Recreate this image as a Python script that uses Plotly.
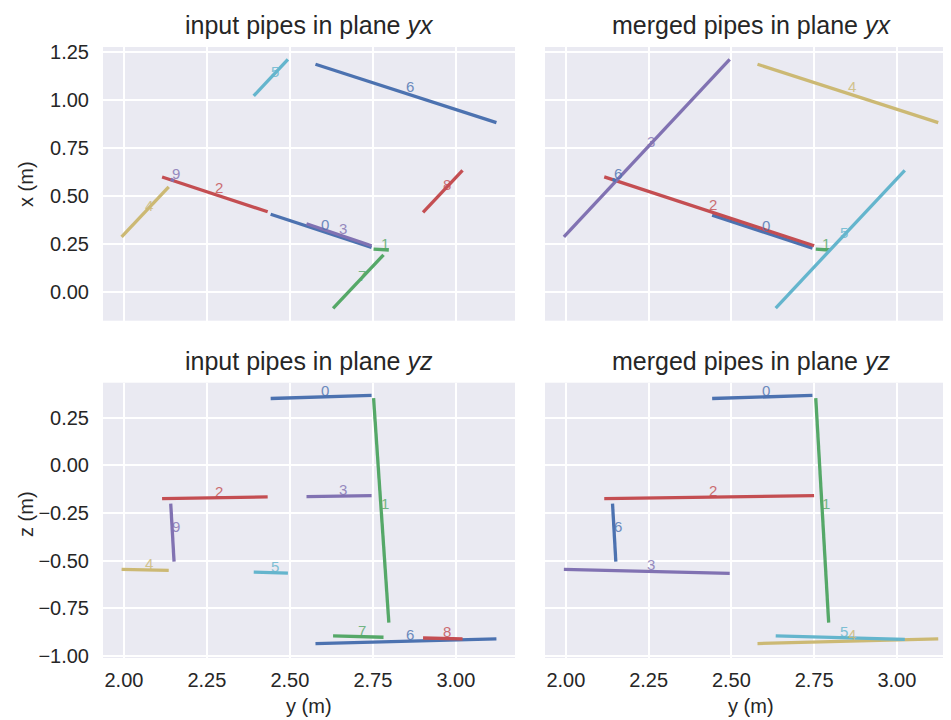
import plotly.graph_objects as go

# ---- data: input pipes (start/end coordinates in metres) ----
in_ids = [0, 1, 2, 3, 4, 5, 6, 7, 8, 9]
in_y0 = [2.442, 2.752, 2.115, 2.550, 1.993, 2.391, 2.577, 2.630, 2.901, 2.141]
in_y1 = [2.746, 2.798, 2.433, 2.746, 2.135, 2.494, 3.122, 2.782, 3.020, 2.151]
in_x0 = [0.405, 0.224, 0.599, 0.356, 0.288, 1.021, 1.186, -0.085, 0.415, 0.587]
in_x1 = [0.233, 0.219, 0.418, 0.241, 0.548, 1.212, 0.882, 0.194, 0.634, 0.580]
in_z0 = [0.351, 0.353, -0.175, -0.164, -0.547, -0.561, -0.936, -0.896, -0.907, -0.201]
in_z1 = [0.367, -0.826, -0.166, -0.159, -0.552, -0.566, -0.912, -0.903, -0.912, -0.506]

# ---- data: merged pipes ----
mg_ids = [0, 1, 2, 3, 4, 5, 6]
mg_y0 = [2.442, 2.755, 2.116, 1.994, 2.579, 2.634, 2.141]
mg_y1 = [2.745, 2.794, 2.750, 2.495, 3.125, 3.024, 2.151]
mg_x0 = [0.401, 0.224, 0.600, 0.288, 1.186, -0.083, 0.587]
mg_x1 = [0.229, 0.219, 0.241, 1.212, 0.882, 0.634, 0.580]
mg_z0 = [0.351, 0.353, -0.175, -0.547, -0.936, -0.896, -0.201]
mg_z1 = [0.367, -0.826, -0.159, -0.568, -0.912, -0.914, -0.506]

x_ticks = [2.00, 2.25, 2.50, 2.75, 3.00]
x_tick_labels = ["2.00", "2.25", "2.50", "2.75", "3.00"]
yx_ticks = [0.00, 0.25, 0.50, 0.75, 1.00, 1.25]
yx_tick_labels = ["0.00", "0.25", "0.50", "0.75", "1.00", "1.25"]
yz_ticks = [-1.00, -0.75, -0.50, -0.25, 0.00, 0.25]
yz_tick_labels = ["\u22121.00", "\u22120.75", "\u22120.50", "\u22120.25", "0.00", "0.25"]

titles = ["input pipes in plane <i>yx</i>", "merged pipes in plane <i>yx</i>",
          "input pipes in plane <i>yz</i>", "merged pipes in plane <i>yz</i>"]

palette = ["#4C72B0", "#55A868", "#C44E52", "#8172B2", "#CCB974", "#64B5CD"]

FONT = "Liberation Sans, Arial, Helvetica, sans-serif"
TXT = "#262626"
BG = "#EAEAF2"

# the page body adds an 8px margin; lay the figure out in window pixels
OFF = 8
WIN_W, WIN_H = 951, 720
W, H = WIN_W - OFF, WIN_H - OFF
ML, MR, MT, MB = 103 - OFF, 0, 47 - OFF, WIN_H - 658
PW, PH = W - ML - MR, H - MT - MB


def px_x(p):
    # window pixel -> paper fraction
    return (p - OFF - ML) / PW


def px_y(p):
    return (WIN_H - MB - p) / PH


fig = go.Figure()

panels = [
    (1, in_ids, in_y0, in_y1, in_x0, in_x1),
    (2, mg_ids, mg_y0, mg_y1, mg_x0, mg_x1),
    (3, in_ids, in_y0, in_y1, in_z0, in_z1),
    (4, mg_ids, mg_y0, mg_y1, mg_z0, mg_z1),
]

annotations = []
for ax, ids, a0, a1, b0, b1 in panels:
    xr = "x" if ax == 1 else f"x{ax}"
    yr = "y" if ax == 1 else f"y{ax}"
    for i, pid in enumerate(ids):
        col = palette[pid % len(palette)]
        fig.add_trace(go.Scatter(
            x=[a0[i], a1[i]], y=[b0[i], b1[i]], mode="lines",
            line=dict(color=col, width=3.3), xaxis=xr, yaxis=yr,
            showlegend=False, hoverinfo="skip"))
        annotations.append(dict(
            x=(a0[i] + a1[i]) / 2, y=(b0[i] + b1[i]) / 2, xref=xr, yref=yr,
            text=str(pid), showarrow=False, xanchor="left", yanchor="bottom",
            xshift=-2, yshift=-4, opacity=0.8,
            font=dict(family=FONT, size=15, color=col)))

dx_left = [px_x(103), px_x(515)]
dx_right = [px_x(545), 1]
dy_top = [px_y(320.7), 1]
dy_bot = [0, px_y(382.7)]

xr_left = [1.937, 3.178]
xr_right = [1.937, 1.937 + (951 - 545) / 331.0]
yr_top = [-0.149, 1.276]
yr_bot = [-1.012, 0.434]

common = dict(showgrid=True, gridcolor="white", gridwidth=1.8, zeroline=False,
              showline=False, ticks="", automargin=False,
              tickfont=dict(family=FONT, size=20, color=TXT))

layout = dict(
    width=W, height=H, paper_bgcolor="white", plot_bgcolor=BG,
    margin=dict(l=ML, r=MR, t=MT, b=MB, autoexpand=False), showlegend=False,
    font=dict(family=FONT, color=TXT),
    xaxis=dict(domain=dx_left, range=xr_left, anchor="y", tickvals=x_ticks,
               ticktext=x_tick_labels, showticklabels=False, **common),
    xaxis2=dict(domain=dx_right, range=xr_right, anchor="y2", tickvals=x_ticks,
                ticktext=x_tick_labels, showticklabels=False, **common),
    xaxis3=dict(domain=dx_left, range=xr_left, anchor="y3", tickvals=x_ticks,
                ticktext=x_tick_labels, ticklabelstandoff=8, **common),
    xaxis4=dict(domain=dx_right, range=xr_right, anchor="y4", tickvals=x_ticks,
                ticktext=x_tick_labels, ticklabelstandoff=8, **common),
    yaxis=dict(domain=dy_top, range=yr_top, anchor="x", tickvals=yx_ticks,
               ticktext=yx_tick_labels, ticklabelstandoff=13, **common),
    yaxis2=dict(domain=dy_top, range=yr_top, anchor="x2", tickvals=yx_ticks,
                ticktext=yx_tick_labels, showticklabels=False, **common),
    yaxis3=dict(domain=dy_bot, range=yr_bot, anchor="x3", tickvals=yz_ticks,
                ticktext=yz_tick_labels, ticklabelstandoff=13, **common),
    yaxis4=dict(domain=dy_bot, range=yr_bot, anchor="x4", tickvals=yz_ticks,
                ticktext=yz_tick_labels, showticklabels=False, **common),
)

cx_left = (px_x(103) + px_x(515)) / 2
cx_right = (px_x(545) + px_x(957)) / 2
title_pos = [(cx_left, px_y(41)), (cx_right, px_y(41)),
             (cx_left, px_y(377)), (cx_right, px_y(377))]
for (tx, ty), t in zip(title_pos, titles):
    annotations.append(dict(x=tx, y=ty, xref="paper", yref="paper", text=t,
                            showarrow=False, xanchor="center", yanchor="bottom",
                            font=dict(family=FONT, size=25, color=TXT)))

for cx in [cx_left, cx_right]:
    annotations.append(dict(x=cx, y=px_y(706), xref="paper", yref="paper",
                            text="y (m)", showarrow=False, xanchor="center",
                            yanchor="middle", font=dict(family=FONT, size=20, color=TXT)))
annotations.append(dict(x=px_x(26), y=px_y(184), xref="paper", yref="paper",
                        text="x (m)", showarrow=False, textangle=-90, xanchor="center",
                        yanchor="middle", font=dict(family=FONT, size=20, color=TXT)))
annotations.append(dict(x=px_x(26), y=px_y(514), xref="paper", yref="paper",
                        text="z (m)", showarrow=False, textangle=-90, xanchor="center",
                        yanchor="middle", font=dict(family=FONT, size=20, color=TXT)))

layout["annotations"] = annotations
fig.update_layout(**layout)

fig.write_html("out.html")
